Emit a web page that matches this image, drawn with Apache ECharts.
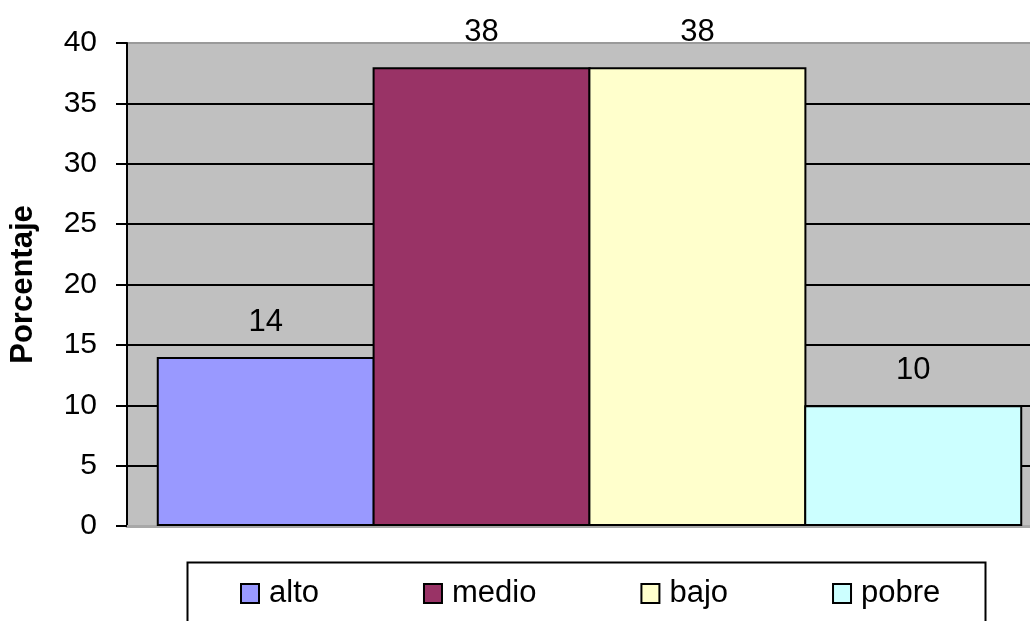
<!DOCTYPE html>
<html>
<head>
<meta charset="utf-8">
<title>Porcentaje por nivel</title>
<script src="https://cdn.jsdelivr.net/npm/echarts@6/dist/echarts.min.js"></script>
<style>
  html, body { margin: 0; padding: 0; background: #ffffff; overflow: hidden; }
  /* the plot area runs on past the right edge of the window */
  #chart { width: 1060px; height: 621px; }
</style>
</head>
<body>
<div id="chart"></div>
<script>
// Levels and their percentages
const levels = ['alto', 'medio', 'bajo', 'pobre'];
const percentages = [14, 38, 38, 10];
const levelColors = ['#9999FF', '#993366', '#FFFFCC', '#CCFFFF'];

// Value axis range
const yMin = 0;
const yMax = 40;
const yStep = 5;

const font = "'Liberation Sans', Arial, sans-serif";

// Gridlines are black; the top edge of the plot is a softer gray
const gridColors = [];
for (let v = yMin; v <= yMax; v += yStep) {
  gridColors.push(v === yMax ? '#9a9a9a' : '#000000');
}

const series = levels.map((name, i) => ({
  name: name,
  type: 'bar',
  data: [percentages[i]],
  barGap: '-1%',
  barWidth: 218,
  itemStyle: { color: levelColors[i], borderColor: '#000000', borderWidth: 2 },
  label: {
    show: true,
    position: 'top',
    distance: 19,
    fontFamily: font,
    fontSize: 31,
    color: '#000000'
  },
  emphasis: { disabled: true }
}));

const chart = echarts.init(document.getElementById('chart'), null, { renderer: 'canvas' });
chart.setOption({
  backgroundColor: '#ffffff',
  animation: false,
  grid: {
    left: 127,
    top: 43,
    bottom: 95,
    right: 8,
    show: true,
    backgroundColor: '#c0c0c0',
    borderWidth: 0
  },
  xAxis: {
    type: 'category',
    data: [''],
    axisLine: { show: true, lineStyle: { color: '#a8a8a8', width: 3 } },
    axisTick: { show: false },
    axisLabel: { show: false },
    splitLine: { show: false }
  },
  yAxis: {
    type: 'value',
    min: yMin,
    max: yMax,
    interval: yStep,
    name: 'Porcentaje',
    nameLocation: 'middle',
    nameGap: 88,
    nameTextStyle: { fontFamily: font, fontSize: 31, fontWeight: 'bold', color: '#000000' },
    axisLine: { show: true, lineStyle: { color: '#000000', width: 2 } },
    axisTick: { show: true, length: 11, lineStyle: { color: '#000000', width: 2 } },
    axisLabel: { margin: 30, fontFamily: font, fontSize: 30, color: '#000000' },
    splitLine: { show: true, lineStyle: { color: gridColors, width: 2 } }
  },
  legend: {
    data: levels,
    left: 240,
    top: 578,
    padding: 0,
    itemGap: 104,
    itemWidth: 18,
    itemHeight: 19,
    icon: 'rect',
    textStyle: { fontFamily: font, fontSize: 31, color: '#000000', padding: [0, 0, 0, 5] },
    selectedMode: false
  },
  graphic: [{
    type: 'rect',
    left: 185,
    top: 560,
    shape: { width: 798, height: 90 },
    style: { fill: 'none', stroke: '#000000', lineWidth: 2 },
    z: 10
  }],
  series: series
});
</script>
</body>
</html>
